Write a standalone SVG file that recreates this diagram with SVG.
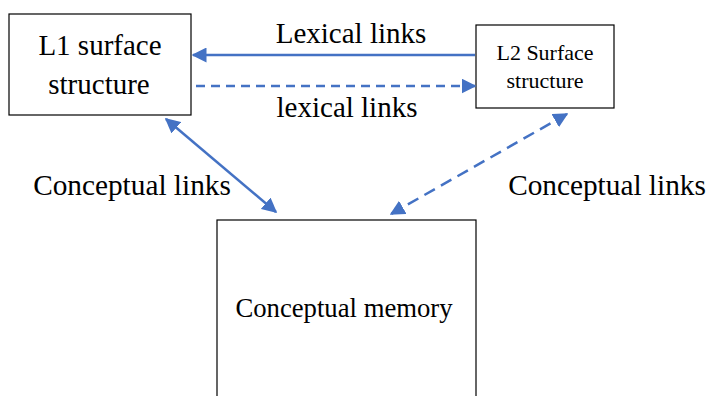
<svg xmlns="http://www.w3.org/2000/svg" width="709" height="396" viewBox="0 0 709 396">
  <style>
    .box { fill: #ffffff; stroke: #000000; stroke-width: 1.2; }
    .lbl { font-family: "Liberation Serif", "Times New Roman", serif; fill: #000000; text-anchor: middle; }
    .link { stroke: #4472C4; stroke-width: 2.5; fill: none; }
    .dash { stroke-dasharray: 9 6; }
    .dash-long { stroke-dasharray: 12 7; }
  </style>
  <defs>
    <marker id="ah" viewBox="0 0 10 10" refX="9" refY="5" markerWidth="6" markerHeight="6" markerUnits="strokeWidth" orient="auto-start-reverse">
      <path d="M0,0 L10,5 L0,10 Z" fill="#4472C4"/>
    </marker>
  </defs>
  <rect width="709" height="396" fill="#ffffff"/>

  <g id="l1-surface">
    <rect class="box" x="9" y="14" width="182" height="101"/>
    <text class="lbl" x="100" y="55" font-size="29">L1 surface</text>
    <text class="lbl" x="99" y="94" font-size="29">structure</text>
  </g>

  <g id="l2-surface">
    <rect class="box" x="476" y="25" width="138" height="83"/>
    <text class="lbl" x="545" y="60" font-size="22">L2 Surface</text>
    <text class="lbl" x="545" y="88" font-size="22">structure</text>
  </g>

  <g id="conceptual-memory">
    <rect class="box" x="217" y="220" width="259" height="190"/>
    <text class="lbl" x="344" y="317" font-size="26.7">Conceptual memory</text>
  </g>

  <g id="connectors">
    <line class="link" x1="475" y1="55" x2="193" y2="55" marker-end="url(#ah)"/>
    <line class="link dash" x1="196" y1="86" x2="475" y2="86" marker-end="url(#ah)"/>
    <line class="link" x1="166" y1="119" x2="276" y2="212" marker-start="url(#ah)" marker-end="url(#ah)"/>
    <line class="link dash-long" x1="567" y1="114" x2="391" y2="214" marker-start="url(#ah)" marker-end="url(#ah)"/>
  </g>

  <g id="labels">
    <text class="lbl" x="351" y="43" font-size="29">Lexical links</text>
    <text class="lbl" x="347" y="117" font-size="29">lexical links</text>
    <text class="lbl" x="132" y="195" font-size="29.3">Conceptual links</text>
    <text class="lbl" x="607" y="195" font-size="29.3">Conceptual links</text>
  </g>
</svg>
